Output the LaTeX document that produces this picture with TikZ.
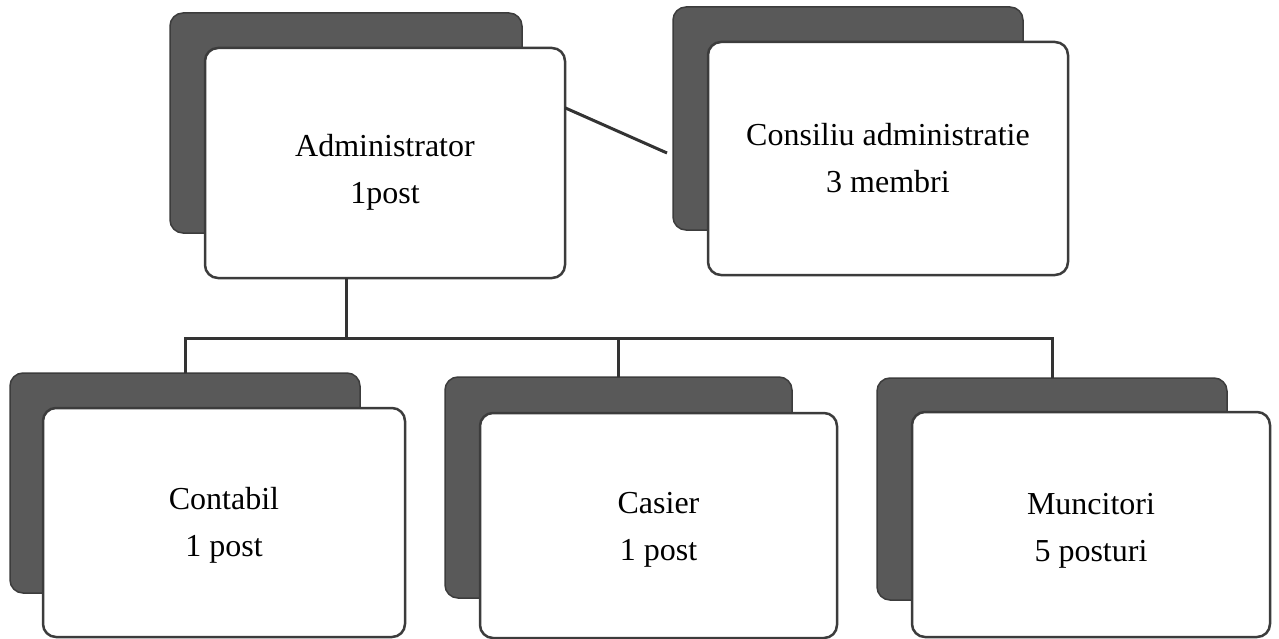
\documentclass[tikz,border=0pt]{standalone}
\usepackage{fontspec}
\setmainfont{Liberation Serif}
\usetikzlibrary{calc}
\definecolor{shadowgray}{HTML}{595959}
\definecolor{edgegray}{HTML}{3C3C3C}
\definecolor{linegray}{HTML}{333333}
\begin{document}
\begin{tikzpicture}[x=1pt,y=-1pt,
  shadowbox/.style={draw=edgegray, fill=shadowgray, line width=1.5pt, rounded corners=13pt,
    inner sep=0pt, outer sep=0pt},
  frontbox/.style={draw=edgegray, fill=white, line width=2.5pt, rounded corners=13pt,
    inner sep=0pt, outer sep=0pt},
  boxtext/.style={align=center, inner sep=0pt, font=\fontsize{32}{47}\selectfont},
  conn/.style={draw=linegray, line width=3pt}]
\useasboundingbox (0,0) rectangle (1279,639);
% shadows
\node[shadowbox, minimum width=352pt, minimum height=220pt] (s1) at (346,123) {};
\node[shadowbox, minimum width=350pt, minimum height=223pt] (s2) at (848,118.5) {};
\node[shadowbox, minimum width=350pt, minimum height=220pt] (s3) at (185,483) {};
\node[shadowbox, minimum width=347pt, minimum height=221pt] (s4) at (618.5,487.5) {};
\node[shadowbox, minimum width=350pt, minimum height=222pt] (s5) at (1052,489) {};
% front boxes
\node[frontbox, minimum width=360pt, minimum height=230pt,
  label={[boxtext, yshift=-9pt]center:Administrator\\1post}] (admin) at (385,163) {};
\node[frontbox, minimum width=360pt, minimum height=233pt,
  label={[boxtext]center:Consiliu administratie\\3 membri}] (consiliu) at (888,158.5) {};
\node[frontbox, minimum width=362pt, minimum height=229pt,
  label={[boxtext, yshift=-3pt]center:Contabil\\1 post}] (contabil) at (224,522.5) {};
\node[frontbox, minimum width=357pt, minimum height=225pt,
  label={[boxtext, yshift=-4pt]center:Casier\\1 post}] (casier) at (658.5,525.5) {};
\node[frontbox, minimum width=358pt, minimum height=225pt,
  label={[boxtext, yshift=-6pt]center:Muncitori\\5 posturi}] (muncitori) at (1091,524.5) {};
% connectors
\coordinate (hub) at (346,338);
\coordinate (cend) at (667,153);
\draw[conn] ($(admin.north east)!0.26!(admin.south east)$) -- (cend);
\draw[conn] (admin.south -| hub) -- (hub);
\draw[conn] (s3.north) |- (hub) -| (s5.north);
\draw[conn] (hub -| s4.north) -- (s4.north);
\end{tikzpicture}
\end{document}
